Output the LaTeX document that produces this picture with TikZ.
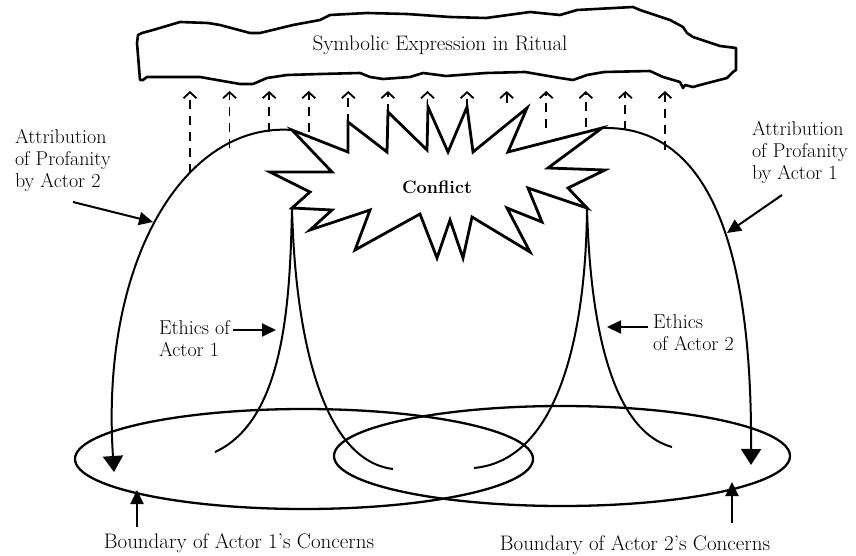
\documentclass[tikz,border=0pt]{standalone}
\usetikzlibrary{arrows.meta}
\begin{document}
\begin{tikzpicture}[x=1pt,y=-1pt,
  every node/.style={inner sep=0pt,outer sep=0pt},
  txt/.style={font=\fontsize{20}{22}\selectfont,align=left},
  btxt/.style={font=\fontsize{21}{22}\selectfont},
  ttl/.style={font=\fontsize{21}{22}\selectfont},
  bold/.style={font=\fontsize{18}{22}\selectfont\bfseries},
  cloudline/.style={line width=2.6pt,line join=round},
  burst/.style={line width=2.8pt,line join=miter,fill=white},
  arch/.style={line width=2pt},
  ell/.style={line width=2.3pt},
  bigtip/.style={-{Triangle[length=16pt,width=20pt]}},
  lbl/.style={line width=2pt,-{Triangle[length=14pt,width=13pt]}},
  dasharrow/.style={line width=1.8pt,dash pattern=on 9pt off 7pt,-{Straight Barb[length=6pt,width=13pt,line width=1.8pt]}}
]
\useasboundingbox (0,0) rectangle (856,556);

% cloud
\draw[cloudline] (137,43) -- (138,35) -- (142,33) -- (153,30) -- (170,25) -- (180,22) -- (208,23) -- (220,25) -- (250,33) -- (260,33) -- (293,25) -- (320,20) -- (330,15) -- (367,13) -- (407,14) -- (450,17) -- (486,18) -- (530,12) -- (560,15) -- (577,10) -- (633,7) -- (640,10) -- (670,20) -- (683,27) -- (687,33) -- (693,37) -- (720,46) -- (736,48) -- (736,70) -- (733,72) -- (727,78) -- (700,85) -- (693,87) -- (685,85) -- (683,88) -- (680,82) -- (663,77) -- (650,71) -- (604,72) -- (587,75) -- (573,80) -- (560,78) -- (525,72) -- (486,73) -- (446,76) -- (423,73) -- (410,77) -- (383,79) -- (370,77) -- (360,73) -- (320,74) -- (287,75) -- (267,78) -- (253,84) -- (240,84) -- (217,80) -- (200,77) -- (147,77) -- (143,80) -- (140,80) -- cycle;
\node[ttl] (title) at (440,45) {Symbolic Expression in Ritual};

% dashed arrows
\foreach \i/\yb in {0/173,1/148,2/132,3/132,4/123,5/113,6/108,7/108,8/103,9/128,10/127,11/130,12/150}{
  \coordinate (db\i) at ({190+39.58*\i},\yb);
  \coordinate (dt\i) at ({190+39.58*\i},91);
  \draw[dasharrow] (db\i) -- (dt\i);
}

% starburst
\draw[burst] (292,130) -- (348,152) -- (348,122) -- (387,152) -- (388,112) -- (427,150) -- (428,107) -- (448,152) -- (467,107) -- (473,152) -- (527,108) -- (508,152) -- (602,128) -- (548,168) -- (605,170) -- (568,188) -- (587,208) -- (528,188) -- (542,222) -- (507,208) -- (530,252) -- (472,217) -- (463,258) -- (450,220) -- (437,258) -- (420,214) -- (355,250) -- (370,210) -- (310,230) -- (332,210) -- (292,208) -- (310,192) -- (270,172) -- (332,172) -- cycle;
\node[bold] (conflict) at (437,187) {Conflict};
\coordinate (bTL) at (292,130);
\coordinate (bTR) at (602,128);
\coordinate (bBL) at (292,208);
\coordinate (bBR) at (587,208);

% ellipses
\draw[ell] (304,459) ellipse [x radius=229, y radius=50];
\draw[ell] (562,456) ellipse [x radius=228, y radius=50];

% arches
\coordinate (a1end) at (114,472);
\coordinate (a2end) at (751,465);
\draw[arch,bigtip] (bTL) .. controls (185,122) and (100,260) .. (a1end);
\draw[arch,bigtip] (bTR) .. controls (715,125) and (752,260) .. (a2end);

% ethics
\coordinate (e1l) at (215,452);
\coordinate (e1r) at (393,469);
\coordinate (e2l) at (474,468);
\coordinate (e2r) at (672,447);
\draw[arch] (bBL) .. controls (290,300) and (285,420) .. (e1l);
\draw[arch] (bBL) .. controls (295,330) and (320,460) .. (e1r);
\draw[arch] (bBR) .. controls (586,330) and (560,460) .. (e2l);
\draw[arch] (bBR) .. controls (590,320) and (610,430) .. (e2r);

% labels
\node[txt,anchor=west] (attr2) at (15,160) {Attribution\\of Profanity\\by Actor 2};
\node[txt,anchor=west] (attr1) at (752,152) {Attribution\\of Profanity\\by Actor 1};
\node[txt,anchor=west] (eth1) at (159,339) {Ethics of\\Actor 1};
\node[txt,anchor=west] (eth2) at (653,333) {Ethics\\of Actor 2};
\node[btxt] (bound1) at (239,543) {Boundary of Actor 1’s Concerns};
\node[btxt] (bound2) at (635,545) {Boundary of Actor 2’s Concerns};

\coordinate (la2s) at (73,202);  \coordinate (la2t) at (153,222);
\coordinate (la1s) at (782,195); \coordinate (la1t) at (727,233);
\coordinate (le1s) at (233,330); \coordinate (le1t) at (276,330);
\coordinate (le2s) at (648,327); \coordinate (le2t) at (607,327);
\coordinate (lb1s) at (137,527); \coordinate (lb1t) at (137,490);
\coordinate (lb2s) at (732,523); \coordinate (lb2t) at (732,482);
\draw[lbl] (la2s) -- (la2t);
\draw[lbl] (la1s) -- (la1t);
\draw[lbl] (le1s) -- (le1t);
\draw[lbl] (le2s) -- (le2t);
\draw[lbl] (lb1s) -- (lb1t);
\draw[lbl] (lb2s) -- (lb2t);
\end{tikzpicture}
\end{document}
